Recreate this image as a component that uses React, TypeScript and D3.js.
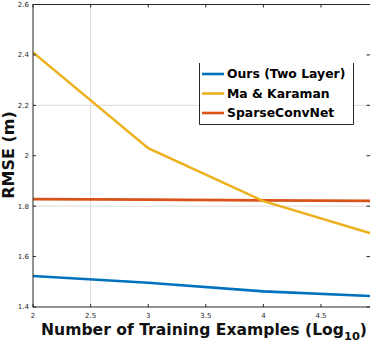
import * as d3 from "d3";

// log10 of training-set size
const xs = [2, 3, 4, 5];
const oursTwoLayer = [1.523, 1.496, 1.462, 1.442];
const maKaraman = [2.41, 2.03, 1.82, 1.683];
const sparseConvNet = [1.828, 1.826, 1.823, 1.821];

const xTicks = [2, 2.5, 3, 3.5, 4, 4.5];
const yTicks = [1.4, 1.6, 1.8, 2, 2.2, 2.4, 2.6];
const xGrid = [2.5];
const yGrid = [1.8, 2.2];

const series = [
  { name: "Ours (Two Layer)", values: oursTwoLayer, color: "#0072BD" },
  { name: "Ma & Karaman", values: maKaraman, color: "#EDB120" },
  { name: "SparseConvNet", values: sparseConvNet, color: "#D95319" },
];

const W = 370;
const H = 342;
const left = 33;
const right = 370.5;
const top = 4.5;
const bottom = 307;

export default function App() {
  const x = d3.scaleLinear().domain([2, 2 + (right - left) / 115.2]).range([left, right]);
  const y = d3.scaleLinear().domain([1.4, 2.6]).range([bottom, top]);

  const line = d3
    .line<[number, number]>()
    .x((d) => x(d[0]))
    .y((d) => y(d[1]));

  const font = "'DejaVu Sans', sans-serif";
  const drawOrder = [series[2], series[1], series[0]];

  return (
    <svg
      width={W}
      height={H}
      style={{ position: "absolute", left: 0, top: 0, background: "#fff" }}
      fontFamily={font}
    >
      <defs>
        <clipPath id="plot">
          <rect x={left} y={top} width={right - left} height={bottom - top} />
        </clipPath>
      </defs>

      {/* grid */}
      {xGrid.map((v) => (
        <line key={"gx" + v} x1={x(v)} x2={x(v)} y1={top} y2={bottom} stroke="#dcdcdc" strokeWidth={1} />
      ))}
      {yGrid.map((v) => (
        <line key={"gy" + v} x1={left} x2={right} y1={y(v)} y2={y(v)} stroke="#dcdcdc" strokeWidth={1} />
      ))}

      {/* lines */}
      <g clipPath="url(#plot)">
        {drawOrder.map((s) => (
          <path
            key={s.name}
            d={line(xs.map((v, i) => [v, s.values[i]]) as [number, number][]) || ""}
            fill="none"
            stroke={s.color}
            strokeWidth={2.6}
          />
        ))}
      </g>

      {/* box */}
      <rect x={left} y={top} width={right - left} height={bottom - top} fill="none" stroke="#262626" strokeWidth={1} />

      {/* x ticks */}
      {xTicks.map((v) => (
        <g key={"xt" + v}>
          <line x1={x(v)} x2={x(v)} y1={bottom} y2={bottom - 3} stroke="#262626" />
          <line x1={x(v)} x2={x(v)} y1={top} y2={top + 3} stroke="#262626" />
          <text x={x(v)} y={317.5} textAnchor="middle" fontSize={7} fill="#262626">
            {v}
          </text>
        </g>
      ))}

      {/* y ticks */}
      {yTicks.map((v) => (
        <g key={"yt" + v}>
          <line x1={left} x2={left + 3} y1={y(v)} y2={y(v)} stroke="#262626" />
          <line x1={right - 4} x2={right} y1={y(v)} y2={y(v)} stroke="#262626" />
          <text x={29} y={y(v)} dy="0.35em" textAnchor="end" fontSize={7} fill="#262626">
            {v}
          </text>
        </g>
      ))}

      {/* axis labels */}
      <text
        x={41}
        y={334.5}
        fontSize={15}
        fontWeight="bold"
        fill="#111"
        textLength={326}
        lengthAdjust="spacingAndGlyphs"
      >
        Number of Training Examples (Log
        <tspan fontSize={11} dy={5}>10</tspan>
        <tspan dy={-5}>)</tspan>
      </text>
      <text
        transform="translate(13.5,155) rotate(-90)"
        textAnchor="middle"
        fontSize={16}
        fontWeight="bold"
        fill="#111"
      >
        RMSE (m)
      </text>

      {/* legend */}
      <rect x={199.5} y={63} width={154} height={61.5} fill="#fff" stroke="none" />
      <path d="M199.5,63V124.5H353.5V63" fill="none" stroke="#262626" strokeWidth={1} />
      {series.map((s, i) => {
        const ly = 74 + i * 19.5;
        return (
          <g key={"lg" + s.name}>
            <line x1={202} x2={224} y1={ly} y2={ly} stroke={s.color} strokeWidth={2.6} />
            <text x={227} y={ly} dy="0.36em" fontSize={12.4} fontWeight="bold" fill="#000">
              {s.name}
            </text>
          </g>
        );
      })}
    </svg>
  );
}
